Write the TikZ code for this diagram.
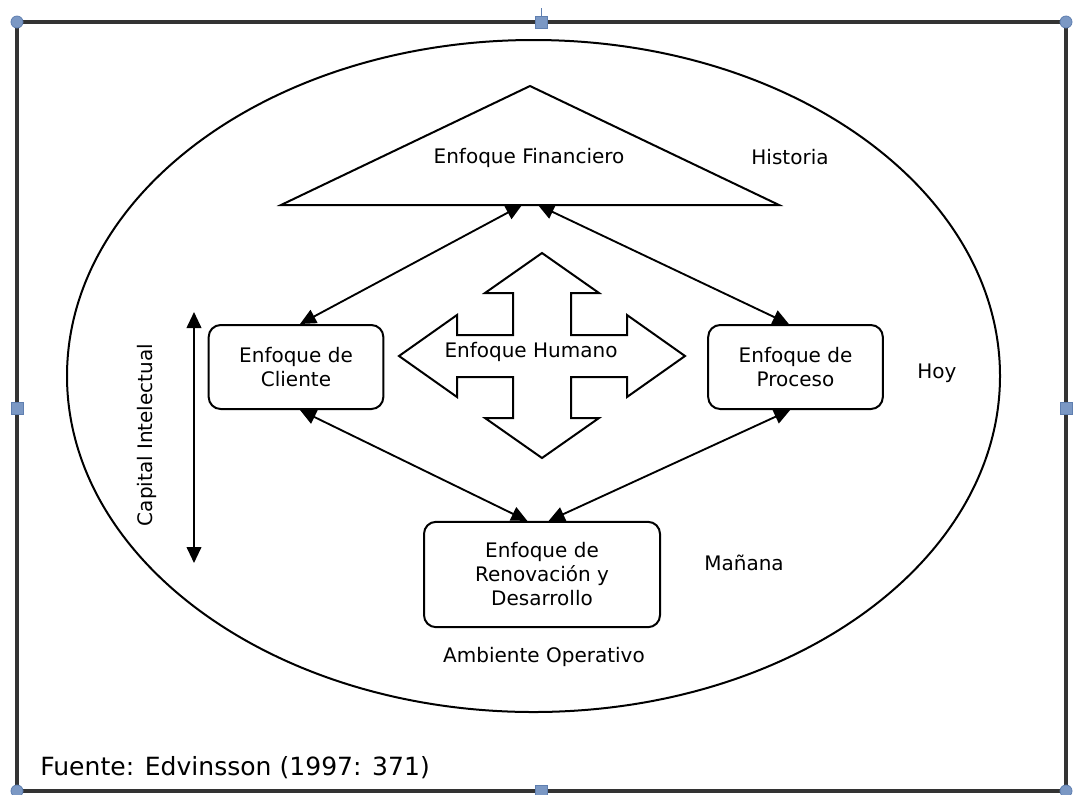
\documentclass[tikz,border=0pt]{standalone}
\usepackage{fontspec}
\setmainfont{DejaVu Sans}
\usetikzlibrary{arrows.meta}
\begin{document}
\begin{tikzpicture}[x=0.75pt,y=-0.75pt,
  shape line/.style={line width=1.5pt,black},
  lbl/.style={font=\fontsize{15}{18}\selectfont,align=center,inner sep=0pt},
  rbox/.style={shape line,draw,rounded corners=9pt,fill=white},
  link/.style={line width=1.4pt,{Triangle[length=12pt,width=11pt]}-{Triangle[length=12pt,width=11pt]}},
  handle/.style={fill=handleblue,draw=handleedge,line width=0.6pt},
]
\definecolor{handleblue}{HTML}{7B98C4}
\definecolor{handleedge}{HTML}{5F7FB0}
\useasboundingbox (0,0) rectangle (1073,794);
\fill[white] (0,0) rectangle (1073,794);

% outer frame
\draw[line width=2.6pt,black!80] (17,22) rectangle (1066,791);
\draw[line width=0.6pt,handleedge] (541,8) -- (541,16);

% operating environment
\draw[shape line] (533.5,376) ellipse [x radius=466.5, y radius=336];

% financial focus (triangle)
\draw[shape line,line join=miter] (530,86) -- (779,205) -- (281,205) -- cycle;
\node[lbl] (fin) at (529,158) {Enfoque Financiero};
\coordinate (finL) at (522,205);
\coordinate (finR) at (538,205);

% human focus (four-way arrow)
\draw[shape line,line join=miter]
  (542,253) -- (599,293) -- (571,293) -- (571,335) -- (627,335) -- (627,315)
  -- (685,356) -- (627,397) -- (627,377) -- (571,377) -- (571,418) -- (599,418)
  -- (542,458) -- (485,418) -- (513,418) -- (513,377) -- (457,377) -- (457,397)
  -- (399,356) -- (457,315) -- (457,335) -- (513,335) -- (513,293) -- (485,293) -- cycle;
\node[lbl] (hum) at (531,352) {Enfoque Humano};

% boxes
\node[rbox,minimum width=131pt,minimum height=63pt] (cli) at (296,367) {};
\node[lbl] at (cli.center) {Enfoque de\\Cliente};
\node[rbox,minimum width=131pt,minimum height=63pt] (pro) at (795.5,367) {};
\node[lbl] at (pro.center) {Enfoque de\\Proceso};
\node[rbox,minimum width=177pt,minimum height=79pt] (ren) at (542,574.5) {};
\node[lbl] at (ren.center) {Enfoque de\\Renovación y\\Desarrollo};

% connectors
\draw[link] (finL) -- ([xshift=3pt]cli.north);
\draw[link] (finR) -- ([xshift=-5pt]pro.north);
\draw[link] ([xshift=3pt]cli.south) -- ([xshift=-11pt]ren.north);
\draw[link] ([xshift=-4pt]pro.south) -- ([xshift=5pt]ren.north);

% time labels
\node[lbl] (his) at (790,157) {Historia};
\node[lbl] (hoy) at (937,373) {Hoy};
\node[lbl] (man) at (744,563) {Mañana};
\node[lbl] (amb) at (544,657) {Ambiente Operativo};

% intellectual capital axis
\coordinate (capT) at (194,312);
\coordinate (capB) at (194,563);
\draw[link] (capT) -- (capB);
\node[lbl,rotate=90] (cap) at (147,435) {Capital Intelectual};

% source
\node[font=\fontsize{18.8}{22}\selectfont,anchor=west,inner sep=0pt] (src) at (40,768) {Fuente: Edvinsson (1997: 371)};

% selection handles
\foreach \p in {(17,22),(1066,22),(17,791),(1066,791)}
  \draw[handle] \p circle [radius=6];
\foreach \p in {(541,22),(17,408),(1066,408),(541,791)}
  \draw[handle] \p ++(-6,-6) rectangle ++(12,12);
\end{tikzpicture}
\end{document}
